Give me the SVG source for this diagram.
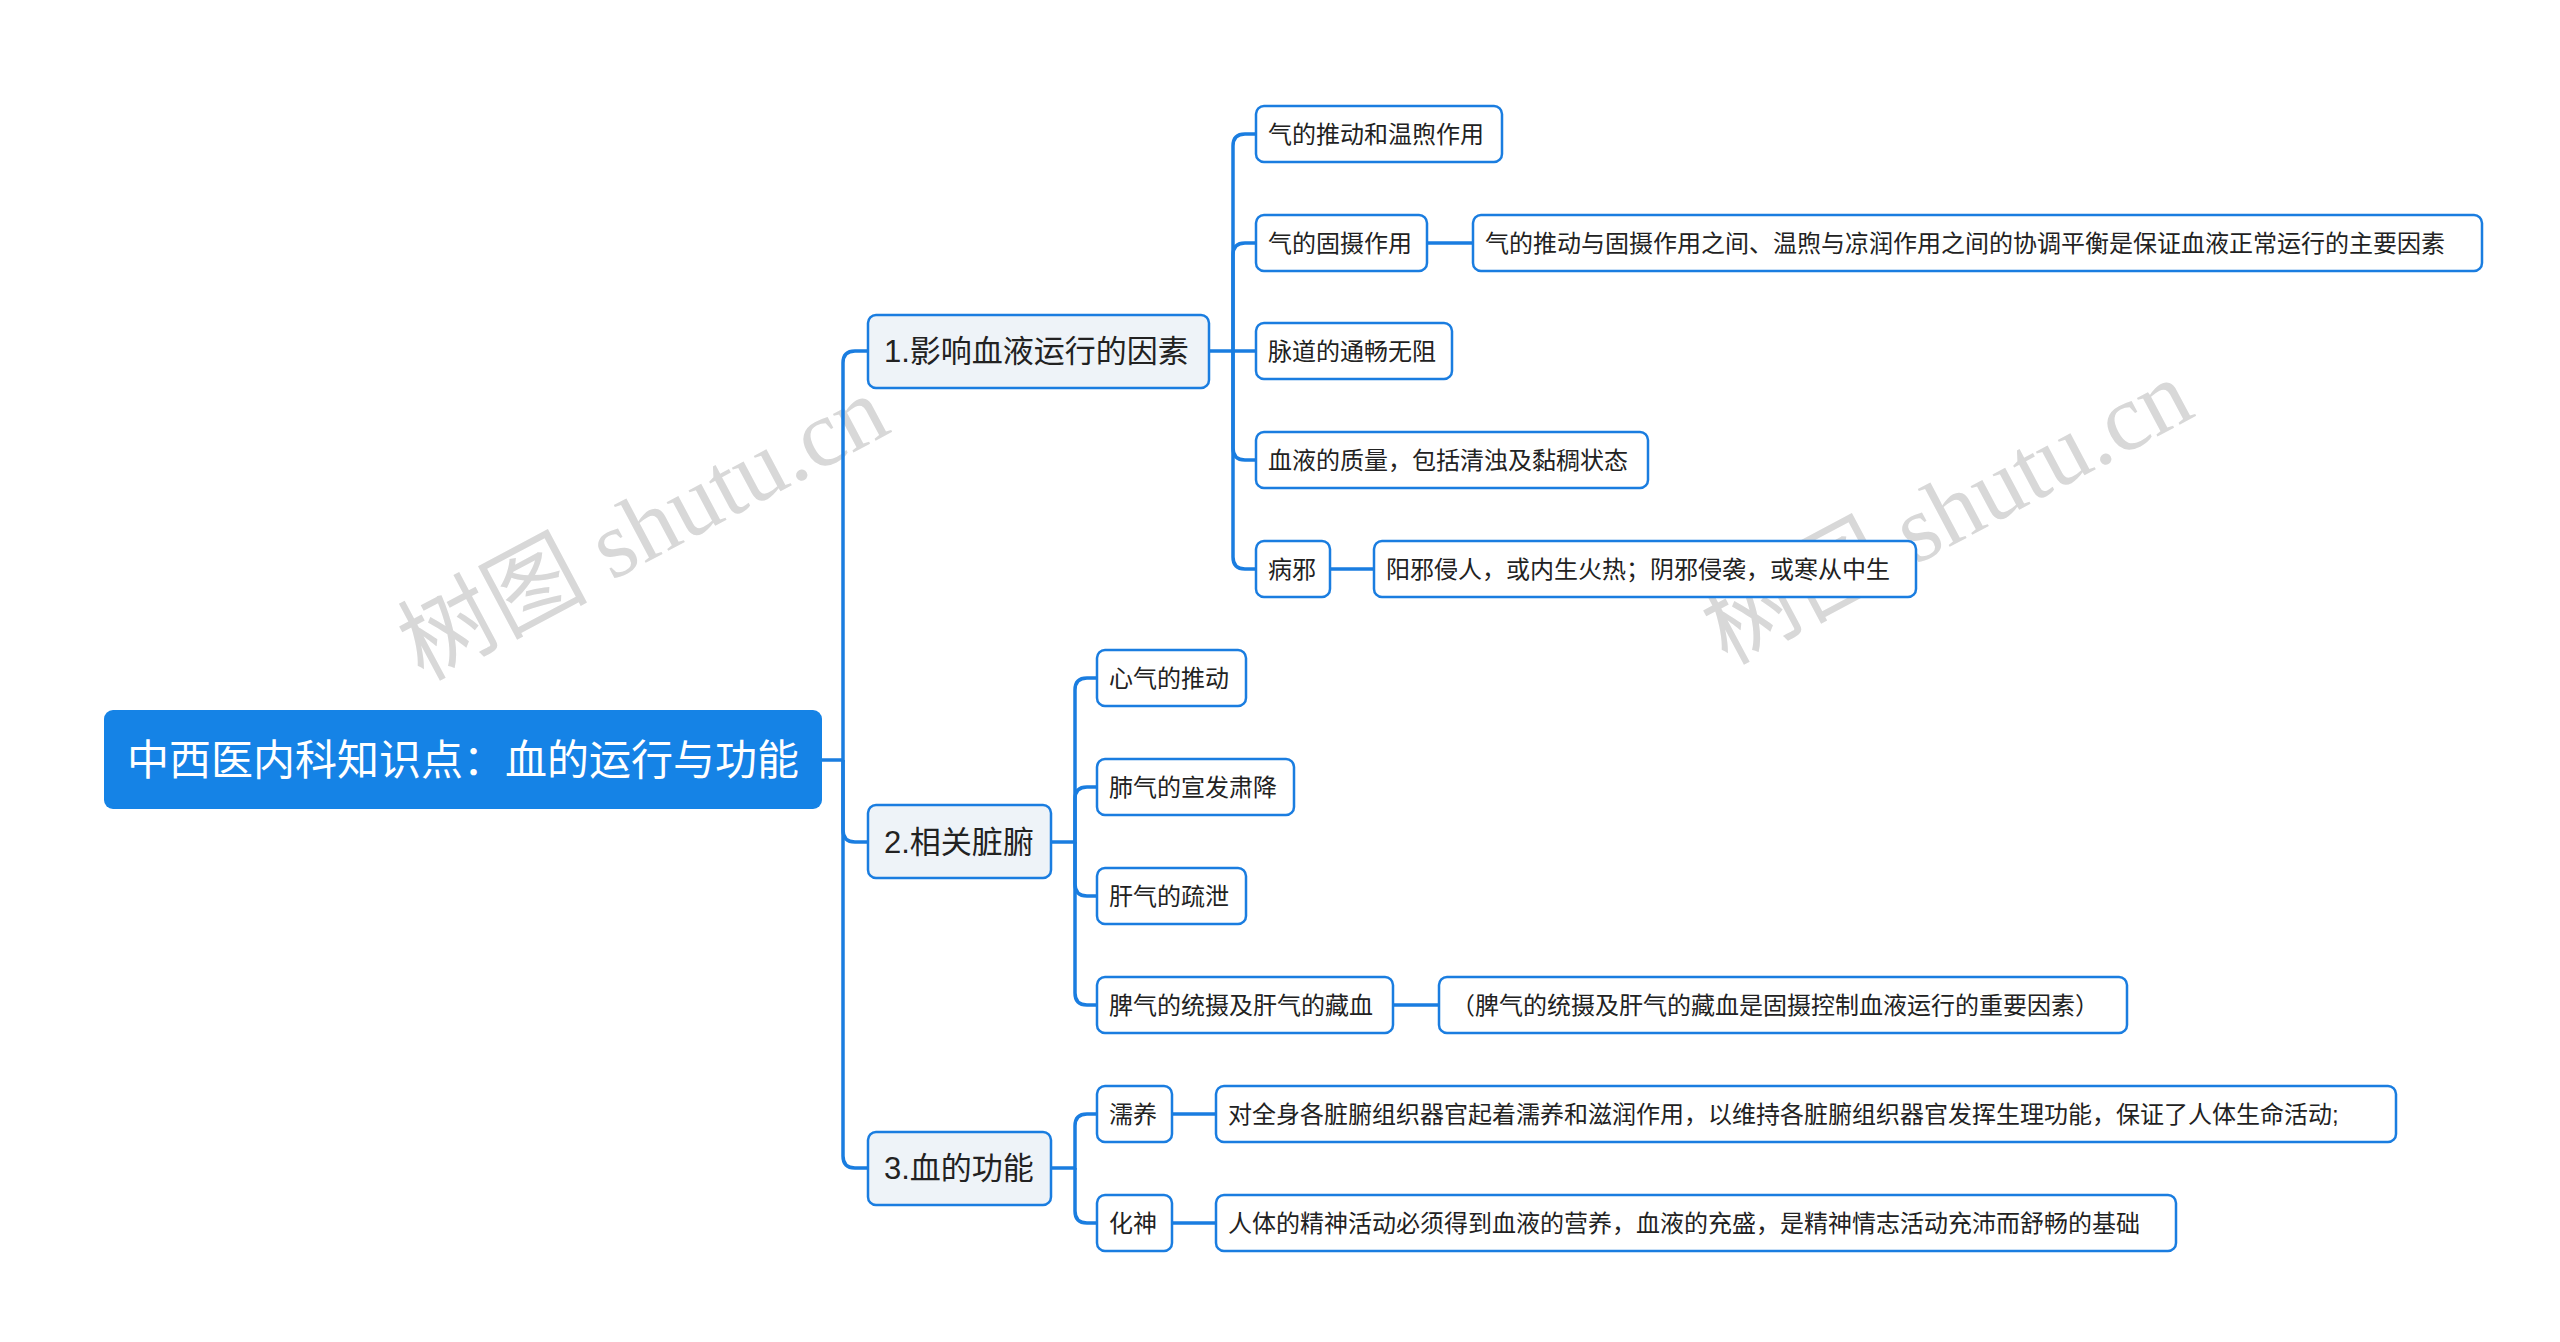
<svg xmlns="http://www.w3.org/2000/svg" width="2560" height="1342" viewBox="0 0 2560 1342">
<style>
text{font-family:"Liberation Sans","Noto Sans CJK SC",sans-serif;dominant-baseline:central;fill:#222}
.l1 rect{fill:#eef3f8;stroke:#1a7de0;stroke-width:2.5}
.l2 rect{fill:#fff;stroke:#1a7de0;stroke-width:2.5}
.l1 text{font-size:31px}
.l2 text{font-size:24px}
#conn path{fill:none;stroke:#1a7de0;stroke-width:3.5}
.wm{font-size:95px;fill:#d8d8d8;font-family:"Liberation Serif","Noto Sans CJK SC",serif}
</style>
<rect width="2560" height="1342" fill="#fff"/>
<text class="wm" x="643" y="528" text-anchor="middle" transform="rotate(-28 643 528)">树图 shutu.cn</text>
<text class="wm" x="1947" y="512" text-anchor="middle" transform="rotate(-28 1947 512)">树图 shutu.cn</text>
<g id="conn">
<path d="M822,760 H843 V363 Q843,351 855,351 H868"/>
<path d="M843,760 V830 Q843,842 855,842 H868"/>
<path d="M843,760 V1156 Q843,1168 855,1168 H868"/>
<path d="M1209,351 H1233 V146 Q1233,134 1245,134 H1256"/>
<path d="M1233,351 V255 Q1233,243 1245,243 H1256"/>
<path d="M1233,351 H1256"/>
<path d="M1233,351 V448 Q1233,460 1245,460 H1256"/>
<path d="M1233,351 V557 Q1233,569 1245,569 H1256"/>
<path d="M1427,243 H1473"/>
<path d="M1330,569 H1374"/>
<path d="M1051,842 H1075 V690 Q1075,678 1087,678 H1097"/>
<path d="M1075,842 V799 Q1075,787 1087,787 H1097"/>
<path d="M1075,842 V884 Q1075,896 1087,896 H1097"/>
<path d="M1075,842 V993 Q1075,1005 1087,1005 H1097"/>
<path d="M1393,1005 H1439"/>
<path d="M1051,1168 H1075 V1126 Q1075,1114 1087,1114 H1097"/>
<path d="M1075,1168 V1211 Q1075,1223 1087,1223 H1097"/>
<path d="M1172,1114 H1216"/>
<path d="M1172,1223 H1216"/>
</g>
<g id="root"><rect x="104" y="710" width="718" height="99" rx="9" fill="#1583e6"/><text x="463" y="760" text-anchor="middle" style="font-size:42px;fill:#fff">中西医内科知识点：血的运行与功能</text></g>
<g id="n1" class="l1"><rect x="868" y="315" width="341" height="73" rx="8"/><text x="884" y="351">1.影响血液运行的因素</text></g>
<g id="n2" class="l1"><rect x="868" y="805" width="183" height="73" rx="8"/><text x="884" y="842">2.相关脏腑</text></g>
<g id="n3" class="l1"><rect x="868" y="1132" width="183" height="73" rx="8"/><text x="884" y="1168">3.血的功能</text></g>
<g id="n1a" class="l2"><rect x="1256" y="106" width="246" height="56" rx="8"/><text x="1268" y="134">气的推动和温煦作用</text></g>
<g id="n1b" class="l2"><rect x="1256" y="215" width="171" height="56" rx="8"/><text x="1268" y="243">气的固摄作用</text></g>
<g id="n1b1" class="l2"><rect x="1473" y="215" width="1009" height="56" rx="8"/><text x="1485" y="243">气的推动与固摄作用之间、温煦与凉润作用之间的协调平衡是保证血液正常运行的主要因素</text></g>
<g id="n1c" class="l2"><rect x="1256" y="323" width="196" height="56" rx="8"/><text x="1268" y="351">脉道的通畅无阻</text></g>
<g id="n1d" class="l2"><rect x="1256" y="432" width="392" height="56" rx="8"/><text x="1268" y="460">血液的质量，包括清浊及黏稠状态</text></g>
<g id="n1e" class="l2"><rect x="1256" y="541" width="74" height="56" rx="8"/><text x="1268" y="569">病邪</text></g>
<g id="n1e1" class="l2"><rect x="1374" y="541" width="542" height="56" rx="8"/><text x="1386" y="569">阳邪侵人，或内生火热；阴邪侵袭，或寒从中生</text></g>
<g id="n2a" class="l2"><rect x="1097" y="650" width="149" height="56" rx="8"/><text x="1109" y="678">心气的推动</text></g>
<g id="n2b" class="l2"><rect x="1097" y="759" width="197" height="56" rx="8"/><text x="1109" y="787">肺气的宣发肃降</text></g>
<g id="n2c" class="l2"><rect x="1097" y="868" width="149" height="56" rx="8"/><text x="1109" y="896">肝气的疏泄</text></g>
<g id="n2d" class="l2"><rect x="1097" y="977" width="296" height="56" rx="8"/><text x="1109" y="1005">脾气的统摄及肝气的藏血</text></g>
<g id="n2d1" class="l2"><rect x="1439" y="977" width="688" height="56" rx="8"/><text x="1451" y="1005">（脾气的统摄及肝气的藏血是固摄控制血液运行的重要因素）</text></g>
<g id="n3a" class="l2"><rect x="1097" y="1086" width="75" height="56" rx="8"/><text x="1109" y="1114">濡养</text></g>
<g id="n3a1" class="l2"><rect x="1216" y="1086" width="1180" height="56" rx="8"/><text x="1228" y="1114">对全身各脏腑组织器官起着濡养和滋润作用，以维持各脏腑组织器官发挥生理功能，保证了人体生命活动;</text></g>
<g id="n3b" class="l2"><rect x="1097" y="1195" width="75" height="56" rx="8"/><text x="1109" y="1223">化神</text></g>
<g id="n3b1" class="l2"><rect x="1216" y="1195" width="960" height="56" rx="8"/><text x="1228" y="1223">人体的精神活动必须得到血液的营养，血液的充盛，是精神情志活动充沛而舒畅的基础</text></g>
</svg>
